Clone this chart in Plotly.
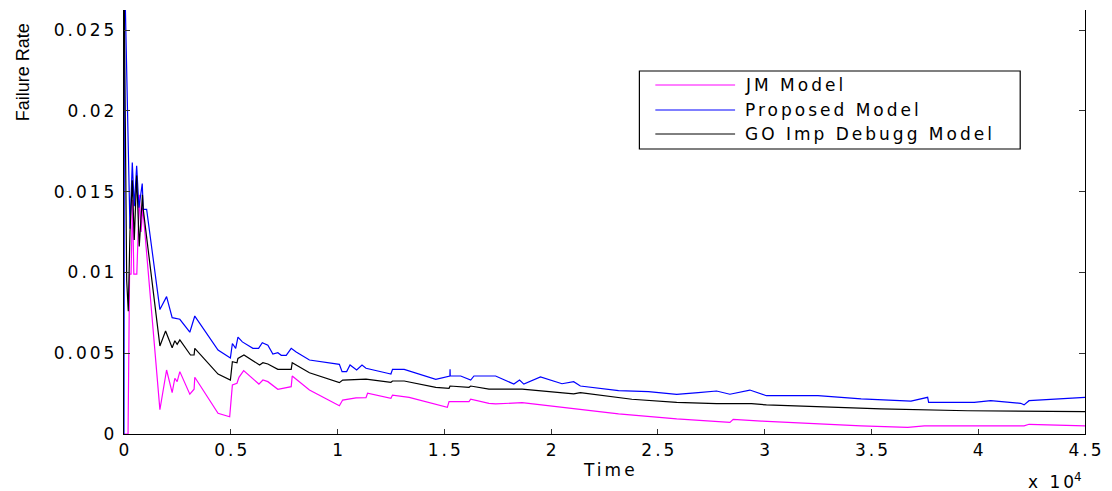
import plotly.graph_objects as go

# ---------------- data ----------------
jm_time = [0, 190, 260, 330, 400, 460, 600, 720, 800, 880, 1681, 1994, 2255, 2381, 2489, 2615,
           3082, 3282, 3315, 4403, 4949, 5075, 5290, 5383, 5603, 6317, 6504, 6737, 7204, 7830,
           7877, 8684, 10085, 10239, 10865, 11332, 11406, 12499, 12574, 13353, 15141, 15221,
           16155, 16234, 17089, 17401, 18643, 20824, 23158, 25880, 28373, 28527, 29849, 34518,
           36698, 37478, 42147, 42380, 45000]
jm_rate = [0.0, 0.0, 0.0099, 0.0099, 0.0145, 0.0099, 0.0099, 0.0148, 0.0125, 0.0140, 0.0015,
           0.00396, 0.00256, 0.00345, 0.00324, 0.00386, 0.00246, 0.00277, 0.00351, 0.00128,
           0.00107, 0.00303, 0.00314, 0.00351, 0.00392, 0.00309, 0.00334, 0.00324, 0.00277,
           0.00293, 0.00359, 0.00272, 0.00175, 0.0021, 0.00223, 0.00225, 0.00252, 0.00221,
           0.00241, 0.00227, 0.00165, 0.0020, 0.0020, 0.00215, 0.0019, 0.00186, 0.00194,
           0.00159, 0.00124, 0.00093, 0.00072, 0.00091, 0.0008, 0.0005, 0.00041, 0.0005,
           0.0005, 0.0006, 0.0005]

prop_time = [0, 23, 280, 388, 481, 593, 700, 854, 901, 1060, 1681, 1994, 2255, 2615, 3082, 3315,
             4403, 4982, 5075, 5229, 5337, 5542, 6037, 6303, 6476, 6737, 6971, 7204, 7363, 7596,
             7830, 8063, 8684, 10085, 10211, 10426, 10585, 10893, 11145, 11332, 12340, 12499,
             12574, 13120, 14600, 15260, 15268, 15276, 15767, 16234, 16388, 17401, 18256, 18522,
             18723, 19502, 20511, 21057, 21370, 23158, 24559, 25880, 26893, 27748, 28373, 29307,
             30082, 32496, 34518, 36852, 37632, 37678, 39812, 40587, 41988, 42147, 42380, 45000]
prop_rate = [0.0, 0.029, 0.0127, 0.0168, 0.0141, 0.0166, 0.0140, 0.0155, 0.0139, 0.0139, 0.0077,
             0.0085, 0.0072, 0.0071, 0.0063, 0.0073, 0.0052, 0.0047, 0.0056, 0.0053, 0.0060,
             0.0057, 0.0053, 0.0053, 0.00565, 0.0055, 0.00495, 0.00503, 0.00487, 0.00487, 0.0053,
             0.00507, 0.00458, 0.00431, 0.00386, 0.00386, 0.00427, 0.00396, 0.00427, 0.00407,
             0.00376, 0.00371, 0.0040, 0.0040, 0.00338, 0.00359, 0.0040, 0.00359, 0.00359,
             0.00334, 0.00359, 0.00359, 0.00309, 0.00334, 0.00309, 0.00353, 0.00311, 0.00324,
             0.00297, 0.00268, 0.00262, 0.00245, 0.00256, 0.00266, 0.00246, 0.00272, 0.00237,
             0.00237, 0.00217, 0.00204, 0.00227, 0.00196, 0.00196, 0.00206, 0.0019, 0.0018,
             0.00206, 0.00227]

go_time = [0, 126, 200, 280, 388, 481, 593, 714, 864, 901, 1681, 1947, 2255, 2381, 2489, 2615,
           3114, 3282, 3315, 4403, 4982, 5075, 5290, 5337, 5617, 6350, 6504, 6737, 7204, 7830,
           7877, 8684, 10085, 10239, 11332, 12499, 12574, 13120, 14600, 15221, 15268, 16155,
           16234, 17089, 18643, 20824, 21057, 21370, 23779, 25880, 27748, 29382, 30082, 35451,
           39500, 45000]
go_rate = [0.0285, 0.0095, 0.0076, 0.0125, 0.0157, 0.0120, 0.0160, 0.0116, 0.0148, 0.0139,
           0.00545, 0.00637, 0.00534, 0.00577, 0.00555, 0.00582, 0.00489, 0.00489, 0.0053,
           0.00371, 0.00334, 0.00447, 0.00441, 0.00468, 0.00489, 0.00427, 0.00441, 0.00433,
           0.0040, 0.0040, 0.00441, 0.00379, 0.00318, 0.00334, 0.0034, 0.0032, 0.00328, 0.00328,
           0.00289, 0.00283, 0.00297, 0.00289, 0.00297, 0.00278, 0.00278, 0.00248, 0.00248,
           0.00256, 0.00215, 0.00196, 0.00188, 0.00188, 0.0018, 0.00155, 0.00144, 0.00138]

series_names = ["JM Model", "Proposed Model", "GO Imp Debugg Model"]
series_colors = ["#FF00FF", "#0000FF", "#000000"]

x_tickvals = [0, 5000, 10000, 15000, 20000, 25000, 30000, 35000, 40000, 45000]
x_ticktext = ["0", "0.5", "1", "1.5", "2", "2.5", "3", "3.5", "4", "4.5"]
y_tickvals = [0, 0.005, 0.01, 0.015, 0.02, 0.025]
y_ticktext = ["0", "0.005", "0.01", "0.015", "0.02", "0.025"]

LS = "letter-spacing:3px"
FONT = "DejaVu Sans"
FS = 17


def sp(t):
    # widen text (the reference glyphs are horizontally stretched); no trailing gap
    if len(t) <= 1:
        return t
    return '<span style="%s">%s</span>%s' % (LS, t[:-1], t[-1])


fig = go.Figure()
for xs, ys, name, col in zip([jm_time, prop_time, go_time], [jm_rate, prop_rate, go_rate],
                             series_names, series_colors):
    fig.add_trace(go.Scatter(x=xs, y=ys, mode="lines", name=name,
                             line=dict(color=col, width=1.2), showlegend=False,
                             cliponaxis=True))

# ---- custom legend box (paper coords) ----
L, R, T, B = 124, 1088, 10, 434
W, H = R - L, B - T


def px(xp):
    return (xp - L) / W


def py(yp):
    return (B - yp) / H


shapes = [dict(type="rect", xref="paper", yref="paper", x0=px(641), x1=px(1023),
               y0=py(149), y1=py(71), line=dict(color="black", width=1.2),
               fillcolor="white", layer="above")]
annotations = []
rows = [85, 110, 134]
for name, col, ry in zip(series_names, series_colors, rows):
    shapes.append(dict(type="line", xref="paper", yref="paper", x0=px(657), x1=px(737),
                       y0=py(ry), y1=py(ry), line=dict(color=col, width=1), layer="above"))
    annotations.append(dict(xref="paper", yref="paper", x=px(745), y=py(ry), text=sp(name),
                            showarrow=False, xanchor="left", yanchor="middle",
                            font=dict(family=FONT, size=FS, color="black")))

annotations += [
    dict(xref="paper", yref="paper", x=px(611), y=py(470), text=sp("Time"), showarrow=False,
         xanchor="center", yanchor="middle", font=dict(family=FONT, size=FS, color="black")),
    dict(xref="paper", yref="paper", x=px(1058), y=py(481),
         text='<span style="%s">x 1</span>0<sup>4</sup>' % LS,
         showarrow=False, xanchor="center", yanchor="middle",
         font=dict(family=FONT, size=FS, color="black")),
    dict(xref="paper", yref="paper", x=px(23), y=py(72), text="Failure Rate", textangle=-90,
         showarrow=False, xanchor="center", yanchor="middle",
         font=dict(family="Liberation Sans Narrow, Liberation Sans", size=18, color="black")),
]

fig.update_layout(
    width=1112, height=491,
    margin=dict(l=L, r=1112 - R, t=T, b=491 - B),
    paper_bgcolor="white", plot_bgcolor="white",
    font=dict(family=FONT, size=FS, color="black"),
    shapes=shapes, annotations=annotations,
    xaxis=dict(range=[0, 45000], tickvals=x_tickvals, ticktext=[sp(t) for t in x_ticktext],
               ticks="inside", ticklen=5, tickcolor="#333", tickwidth=1.3,
               showline=True, linecolor="black", linewidth=1.3, showgrid=False,
               zeroline=False, mirror=False, tickfont=dict(family=FONT, size=FS)),
    yaxis=dict(range=[0, 0.02624], tickvals=y_tickvals, ticktext=[sp(t) for t in y_ticktext],
               ticks="inside", ticklen=6, tickcolor="#333", tickwidth=1.3,
               showline=True, linecolor="black", linewidth=1.3, showgrid=False,
               zeroline=False, mirror="ticks", tickfont=dict(family=FONT, size=FS),
               ticklabelstandoff=5),
)

fig.write_html("out.html")
